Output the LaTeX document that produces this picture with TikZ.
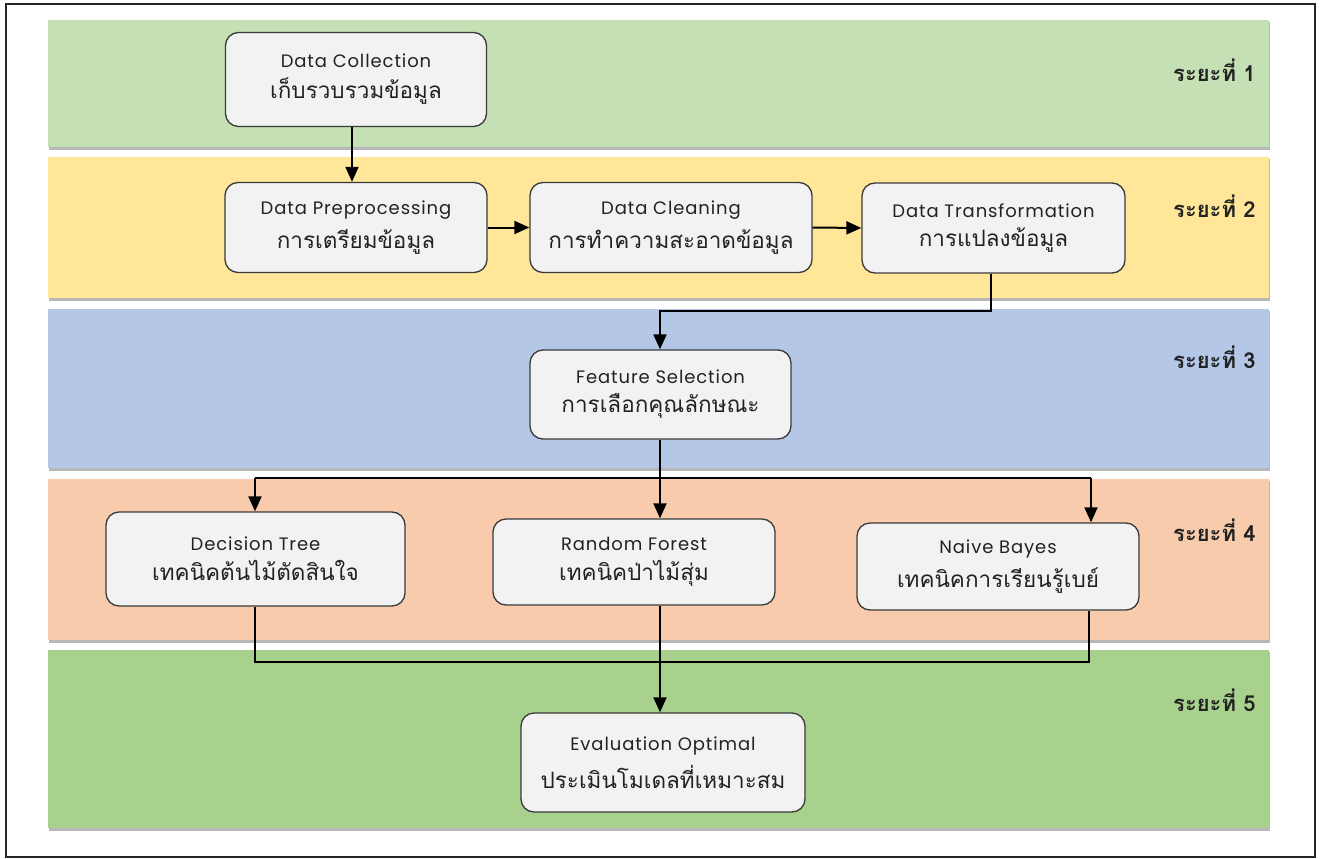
\documentclass[tikz,border=0pt]{standalone}
\usepackage{fontspec}
\usetikzlibrary{arrows.meta,calc}
\newfontfamily\thaifont[Script=Thai]{Loma}
\newfontfamily\enfont[LetterSpace=5]{Poppins}
\definecolor{bandA}{HTML}{C5E0B4}
\definecolor{bandB}{HTML}{FFE699}
\definecolor{bandC}{HTML}{B4C7E7}
\definecolor{bandD}{HTML}{F8CBAD}
\definecolor{bandE}{HTML}{A9D18E}
\definecolor{boxfill}{HTML}{F2F2F2}
\definecolor{boxline}{HTML}{3A3A3A}
\definecolor{txt}{HTML}{222222}
\tikzset{
  band/.style={draw=none},
  bandshadow/.style={fill=black!28},
  box/.style={draw=boxline, fill=boxfill, rounded corners=13pt, line width=1.3pt,
    inner sep=0pt, align=center, text=txt},
  phase/.style={font=\thaifont\bfseries\fontsize{22}{24}\selectfont, text=txt, anchor=west, inner sep=0pt},
  conn/.style={line width=2pt, black},
  arr/.style={conn, -{Triangle[length=15pt,width=13pt]}},
}
\newcommand{\boxtext}[2]{{\enfont\fontsize{18}{20}\selectfont #1}\\[9pt]{\thaifont\fontsize{22.5}{24}\selectfont #2}}
\begin{document}
\begin{tikzpicture}[x=1pt,y=-1pt]
\useasboundingbox (0,0) rectangle (1320,859);
\fill[white] (0,0) rectangle (1320,859);
% bands with shadows
\foreach \ya/\yb/\c in {20/147/bandA,157/298/bandB,309/468/bandC,479/640/bandD,650/828/bandE}{
  \fill[bandshadow] (49,\ya+2) rectangle (1270,\yb+2.5);
  \fill[\c] (48,\ya) rectangle (1269,\yb);
}
% outer frame
\draw[line width=1.3pt, black!85] (6,4) rectangle (1315,857);
% boxes
\node[box, minimum width=261pt, minimum height=94pt] (dc)  at (356,79.5)  {\boxtext{Data Collection}{เก็บรวบรวมข้อมูล}};
\node[box, minimum width=262pt, minimum height=90pt] (pre) at (356,227.5) {\boxtext{Data Preprocessing}{การเตรียมข้อมูล}};
\node[box, minimum width=282pt, minimum height=90pt] (cle) at (671,227.5) {\boxtext{Data Cleaning}{การทำความสะอาดข้อมูล}};
\node[box, minimum width=263pt, minimum height=90pt] (tra) at (993.5,228) {\boxtext{Data Transformation}{การแปลงข้อมูล}};
\node[box, minimum width=261pt, minimum height=89pt] (fs)  at (660.5,394.5) {\boxtext{Feature Selection}{การเลือกคุณลักษณะ}};
\node[box, minimum width=299pt, minimum height=94pt] (dt)  at (255.5,559) {\boxtext{Decision Tree}{เทคนิคต้นไม้ตัดสินใจ}};
\node[box, minimum width=282pt, minimum height=86pt] (rf)  at (634,562) {\boxtext{Random Forest}{เทคนิคป่าไม้สุ่ม}};
\node[box, minimum width=282pt, minimum height=87pt] (nb)  at (998,566.5) {\boxtext{Naive Bayes}{เทคนิคการเรียนรู้เบย์}};
\node[box, minimum width=284pt, minimum height=99pt] (ev)  at (663,762.5) {\boxtext{Evaluation Optimal}{ประเมินโมเดลที่เหมาะสม}};
% phase labels
\node[phase] (p1) at (1173,70)  {ระยะที่ 1};
\node[phase] (p2) at (1173,206) {ระยะที่ 2};
\node[phase] (p3) at (1173,357) {ระยะที่ 3};
\node[phase] (p4) at (1173,530) {ระยะที่ 4};
\node[phase] (p5) at (1173,700) {ระยะที่ 5};
% connectors
\draw[arr] (352,0 |- dc.south) -- (352,0 |- pre.north);
\draw[arr] (pre.east) -- (cle.west);
\draw[arr] (cle.east) -- (tra.west);
\coordinate (t1) at (991,311);
\coordinate (t2) at (660,311);
\draw[arr] (991,0 |- tra.south) -- (t1) -- (t2) -- (660,0 |- fs.north);
\coordinate (j) at (660,478);
\coordinate (jl) at (255,478);
\coordinate (jr) at (1091,478);
\draw[conn] (660,0 |- fs.south) -- (j);
\draw[conn] (jl) -- (jr);
\draw[arr] (jl) -- (255,0 |- dt.north);
\draw[arr] (j) -- (660,0 |- rf.north);
\draw[arr] (jr) -- (1091,0 |- nb.north);
\coordinate (bl) at (255,662);
\coordinate (br) at (1089,662);
\draw[conn] (255,0 |- dt.south) -- (bl) -- (br) -- (1089,0 |- nb.south);
\draw[arr] (660,0 |- rf.south) -- (660,0 |- ev.north);
\end{tikzpicture}
\end{document}
